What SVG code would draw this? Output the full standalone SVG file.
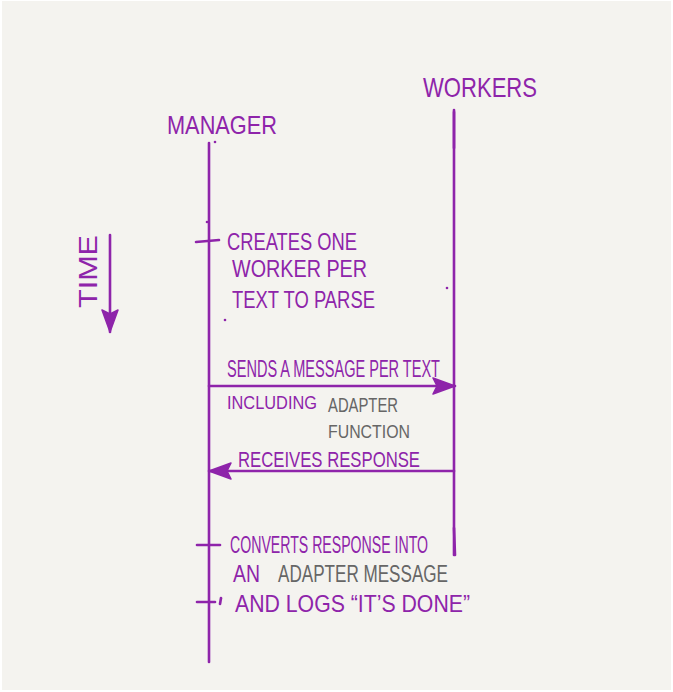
<svg xmlns="http://www.w3.org/2000/svg" width="673" height="692" viewBox="0 0 673 692">
  <style>
    .ink { stroke: #8e24aa; stroke-width: 2.6; fill: none; stroke-linecap: round; }
    .lbl { font-family: "Liberation Sans", Arial, sans-serif; fill: #8e24aa; }
    .grey { fill: #666666; }
    .dot { fill: #8e24aa; }
  </style>
  <defs>
    <marker id="head" markerUnits="userSpaceOnUse" markerWidth="26" markerHeight="18" refX="23" refY="9" orient="auto">
      <path d="M1,1 L23,9 L1,17 L5,9 z" fill="#8e24aa" stroke="#8e24aa" stroke-width="1.5" stroke-linejoin="round"/>
    </marker>
  </defs>

  <rect x="0" y="0" width="673" height="692" fill="#ffffff"/>
  <rect x="2" y="1" width="669" height="689" fill="#f4f3ef"/>

  <g id="time-axis">
    <text class="lbl" font-size="26" transform="translate(97,308) rotate(-90)" textLength="73" lengthAdjust="spacingAndGlyphs">TIME</text>
    <line class="ink" x1="110" y1="235" x2="110" y2="332" marker-end="url(#head)"/>
  </g>

  <g id="manager">
    <text class="lbl" x="167" y="134" font-size="25" textLength="110" lengthAdjust="spacingAndGlyphs">MANAGER</text>
    <line class="ink" x1="209" y1="143" x2="209" y2="662"/>
    <line class="ink" x1="196" y1="242" x2="219" y2="240"/>
    <line class="ink" x1="197" y1="545" x2="220" y2="545"/>
    <line class="ink" x1="197" y1="602" x2="215" y2="602"/>
    <line class="ink" stroke-width="1.2" x1="221" y1="598" x2="220" y2="604"/>
  </g>

  <g id="workers">
    <text class="lbl" x="423" y="97" font-size="28" textLength="114" lengthAdjust="spacingAndGlyphs">WORKERS</text>
    <line class="ink" x1="454" y1="110" x2="454" y2="555"/>
    <line class="ink" stroke-width="3.6" x1="454" y1="112" x2="454" y2="148"/>
    <line class="ink" stroke-width="3.6" x1="454" y1="528" x2="455" y2="555"/>
  </g>

  <g id="note-create">
    <text class="lbl" x="227" y="250" font-size="24" textLength="130" lengthAdjust="spacingAndGlyphs">CREATES ONE</text>
    <text class="lbl" x="232" y="277" font-size="24" textLength="135" lengthAdjust="spacingAndGlyphs">WORKER PER</text>
    <text class="lbl" x="232" y="308" font-size="24" textLength="143" lengthAdjust="spacingAndGlyphs">TEXT TO PARSE</text>
  </g>

  <g id="connectors">
    <line class="ink" x1="209" y1="386" x2="455" y2="386" marker-end="url(#head)"/>
    <line class="ink" x1="454" y1="471" x2="209" y2="471" marker-end="url(#head)"/>
  </g>

  <g id="label-send">
    <text class="lbl" x="227" y="377" font-size="23" textLength="213" lengthAdjust="spacingAndGlyphs">SENDS A MESSAGE PER TEXT</text>
    <text class="lbl" x="227" y="409" font-size="17.5" textLength="90" lengthAdjust="spacingAndGlyphs">INCLUDING</text>
    <text class="lbl grey" x="328" y="412" font-size="21" textLength="70" lengthAdjust="spacingAndGlyphs">ADAPTER</text>
    <text class="lbl grey" x="328" y="438" font-size="19" textLength="82" lengthAdjust="spacingAndGlyphs">FUNCTION</text>
  </g>

  <g id="label-receive">
    <text class="lbl" x="238" y="467" font-size="22" textLength="182" lengthAdjust="spacingAndGlyphs">RECEIVES RESPONSE</text>
  </g>

  <g id="note-convert">
    <text class="lbl" x="230" y="553" font-size="24" textLength="198" lengthAdjust="spacingAndGlyphs">CONVERTS RESPONSE INTO</text>
    <text class="lbl" x="233" y="582" font-size="23" textLength="27" lengthAdjust="spacingAndGlyphs">AN</text>
    <text class="lbl grey" x="278" y="582" font-size="23" textLength="170" lengthAdjust="spacingAndGlyphs">ADAPTER MESSAGE</text>
    <text class="lbl" x="235" y="612" font-size="24" textLength="235" lengthAdjust="spacingAndGlyphs">AND LOGS “IT’S DONE”</text>
  </g>

  <g id="stray-dots">
    <circle class="dot" cx="215" cy="142" r="1.3"/>
    <circle class="dot" cx="207" cy="222" r="1.3"/>
    <circle class="dot" cx="225" cy="320" r="1.3"/>
    <circle class="dot" cx="447" cy="288" r="1.3"/>
  </g>
</svg>
